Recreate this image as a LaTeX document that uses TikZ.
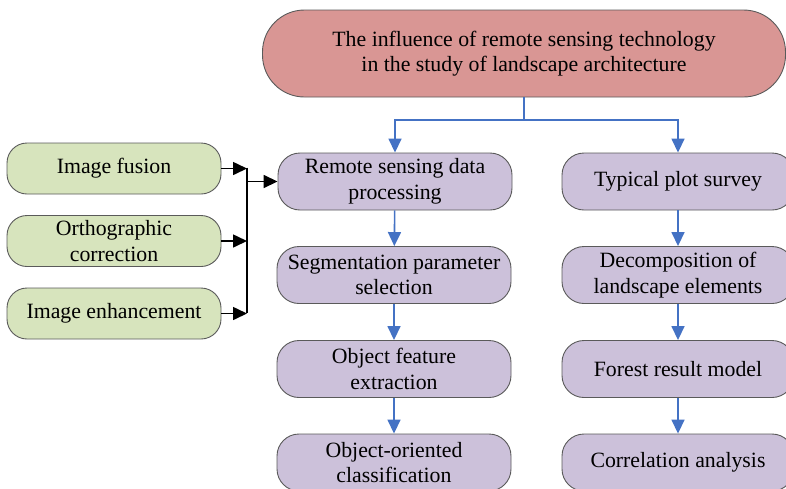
\documentclass[tikz,border=0pt]{standalone}
\usepackage{fontspec}
\setmainfont{Liberation Serif}
\usetikzlibrary{arrows.meta}
\definecolor{salmon}{HTML}{D99694}
\definecolor{lav}{HTML}{CCC1DA}
\definecolor{sage}{HTML}{D7E4BD}
\definecolor{bord}{HTML}{5A5A5A}
\definecolor{arrblue}{HTML}{4472C4}
\tikzset{
  box/.style={draw=bord, line width=0.9pt, align=center, inner sep=0pt,
    font=\fontsize{21.8}{25.5}\selectfont},
  titlebox/.style={box, fill=salmon, minimum width=523pt, minimum height=87pt, rounded corners=42pt},
  pbox/.style={box, fill=lav, minimum width=234pt, minimum height=57pt, rounded corners=22pt},
  gbox/.style={box, fill=sage, minimum width=214pt, minimum height=51pt, rounded corners=20pt},
  barrow/.style={draw=arrblue, line width=1.6pt, -{Triangle[length=14pt,width=13pt]}},
  bline/.style={draw=arrblue, line width=1.6pt},
  karrow/.style={draw=black, line width=1.6pt, -{Triangle[length=14pt,width=13pt]}},
  kline/.style={draw=black, line width=1.6pt}
}
\begin{document}
\begin{tikzpicture}[x=1pt,y=-1pt]
\useasboundingbox (0,0) rectangle (786,488);
\clip (0,0) rectangle (786,488);
\node[titlebox] (top) at (524,53.5) {The influence of remote sensing technology\\in the study of landscape architecture};
\node[pbox] (L1) at (395,181.5) {Remote sensing data\\processing};
\node[pbox] (L2) at (394,275) {Segmentation parameter\\selection};
\node[pbox] (L3) at (394,369) {Object feature\\extraction};
\node[pbox] (L4) at (394,462.5) {Object-oriented\\classification};
\node[pbox, minimum width=232pt] (R1) at (678,181.5) {Typical plot survey};
\node[pbox, minimum width=232pt] (R2) at (678,275) {Decomposition of\\landscape elements};
\node[pbox, minimum width=232pt] (R3) at (678,369) {Forest result model};
\node[pbox, minimum width=232pt] (R4) at (678,462.5) {Correlation analysis};
\node[gbox] (G1) at (114,168.5) {Image fusion};
\node[gbox] (G2) at (114,241) {Orthographic\\correction};
\node[gbox] (G3) at (114,313.5) {Image enhancement};
\coordinate (j) at (524,120);
\coordinate (bus) at (247,240);
\draw[bline] (top.south) -- (j);
\draw[barrow] (j) -| (L1.north);
\draw[barrow] (j) -| (R1.north);
\draw[barrow] (L1) -- (L2);
\draw[barrow] (L2) -- (L3);
\draw[barrow] (L3) -- (L4);
\draw[barrow] (R1) -- (R2);
\draw[barrow] (R2) -- (R3);
\draw[barrow] (R3) -- (R4);
\draw[karrow] (G1.east) -- (G1.east -| bus);
\draw[karrow] (G2.east) -- (G2.east -| bus);
\draw[karrow] (G3.east) -- (G3.east -| bus);
\draw[kline] (G1.east -| bus) ++(0,-1) -- ([yshift=1pt]G3.east -| bus);
\draw[karrow] (L1.west -| bus) -- (L1.west);
\end{tikzpicture}
\end{document}
